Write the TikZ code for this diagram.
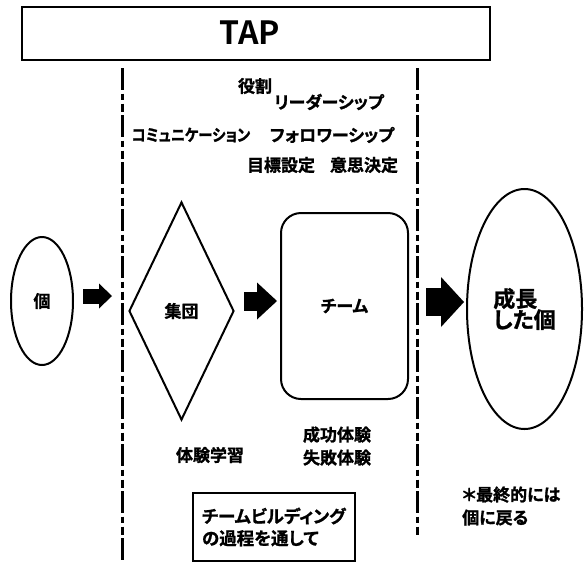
\documentclass[tikz,border=0pt]{standalone}
\usepackage{fontspec}
\newfontfamily\jpb{Noto Sans CJK JP Bold}[RawFeature=+palt, FakeBold=1.2]
\newfontfamily\tapf{Noto Sans CJK JP Bold}
\usetikzlibrary{shapes.geometric,arrows.meta}
\begin{document}
\begin{tikzpicture}[x=1pt,y=-1pt,
  shp/.style={draw, line width=2pt, inner sep=0pt},
  lbl/.style={font=\jpb\fontsize{17}{23}\selectfont, inner sep=0pt},
  sepline/.style={line width=3pt, dash pattern=on 22pt off 3.5pt on 6.5pt off 3.5pt on 8pt off 3.5pt},
  arrA/.style={line width=15pt, -{Triangle[length=13pt, width=25pt, line width=0pt]}},
  arrB/.style={line width=19pt, -{Triangle[length=20pt, width=37pt, line width=0pt]}},
  arrC/.style={line width=28pt, -{Triangle[length=23pt, width=50pt, line width=0pt]}}]
\useasboundingbox (0,0) rectangle (585,563);

% title
\node[shp, minimum width=468pt, minimum height=53pt] (tap) at (256,33.5) {};
\node[font=\tapf\fontsize{32}{36}\selectfont, inner sep=0pt] (taptxt) at (250,33) {TAP};

% separators
\coordinate (l1t) at (122,68);
\coordinate (l1b) at (122,560);
\coordinate (l2t) at (417,68);
\coordinate (l2b) at (417,537);
\draw[sepline] (l1t) -- (l1b);
\draw[sepline] (l2t) -- (l2b);

% top labels
\node[lbl] (yakuwari) at (255,86) {役割};
\node[lbl] (leader) at (329,102) {リーダーシップ};
\node[lbl, font=\jpb\fontsize{16.5}{20}\selectfont] (comm) at (191,135) {\scalebox{0.87}[1]{コミュニケーション}};
\node[lbl] (follow) at (332,135) {フォロワーシップ};
\node[lbl] (mokuhyo) at (281,165) {目標設定};
\node[lbl] (ishi) at (364,165) {意思決定};

% main shapes
\node[shp, ellipse, minimum width=62pt, minimum height=128pt, lbl] (ko) at (42,301) {個};
\node[shp, diamond, minimum width=105pt, minimum height=218pt, lbl] (shudan) at (181.5,311) {集団};
\node[shp, rectangle, rounded corners=20pt, minimum width=127pt, minimum height=186pt, lbl] (team) at (344.5,306) {チーム};
\node[shp, ellipse, minimum width=115pt, minimum height=240pt, align=left,
      font=\jpb\fontsize{22}{21}\selectfont] (seicho) at (524.5,309) {成長\\した個};

% block arrows
\draw[arrA] ([shift={(9,-5)}]ko.east) -- ([shift={(-16,-15)}]shudan.west);
\draw[arrB] ([shift={(9,-10)}]shudan.east) -- ([shift={(-3,-5)}]team.west);
\draw[arrC] ([shift={(17,-4)}]team.east) -- ([shift={(-2,-7)}]seicho.west);

% bottom labels
\node[lbl] (taiken) at (210,455) {体験学習};
\node[lbl, align=center] (seiko) at (337,446) {成功体験\\失敗体験};
\node[draw, line width=2.5pt, minimum width=162pt, minimum height=68pt, inner sep=9pt,
      align=left, font=\jpb\fontsize{17.5}{22}\selectfont, text width=144pt] (tb) at (274,527) {チームビルディング\\の過程を通して};
\node[lbl, align=left, anchor=west] (note) at (462,506) {＊最終的には\\個に戻る};
\end{tikzpicture}
\end{document}
